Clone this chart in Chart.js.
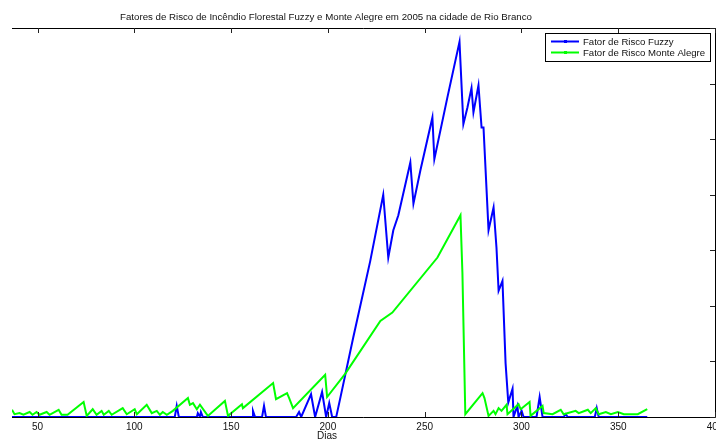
<!DOCTYPE html>
<html>
<head>
<meta charset="utf-8">
<script src="https://cdn.jsdelivr.net/npm/chart.js@4.4.0/dist/chart.umd.min.js"></script>
<style>
  html, body { margin: 0; padding: 0; background: #fff; }
</style>
</head>
<body>
<canvas id="fatoresChart" width="716" height="442"></canvas>
<script>
var titulo = "Fatores de Risco de Incêndio Florestal Fuzzy e Monte Alegre em 2005 na cidade de Rio Branco";
var rotuloX = "Dias";
var nomesSeries = ["Fator de Risco Fuzzy", "Fator de Risco Monte Alegre"];
var ticksDias = [50, 100, 150, 200, 250, 300, 350, 400];
var ticksY = [0, 1, 2, 3, 4, 5, 6, 7];

// Fator de Risco Fuzzy (vertices)
var fuzzyDias = [36.8, 120.9, 121.9, 123.0, 132.3, 132.8, 133.9, 134.4, 135.4, 160.8, 161.3, 162.4,
  166.0, 167.0, 168.0, 183.6, 185.1, 186.2, 191.3, 193.4, 197.0, 199.1, 200.7, 202.2, 204.3,
  206.4, 213.1, 221.9, 228.6, 231.2, 233.8, 236.4, 242.6, 244.2, 247.8, 254.0, 255.0, 261.8,
  268.0, 270.0, 272.1, 274.2, 275.2, 277.8, 279.4, 280.4, 283.0, 285.6, 287.1, 288.2, 290.2,
  291.8, 293.2, 295.4, 295.9, 297.9, 298.5, 300.1, 301.1, 307.8, 309.4, 310.9, 321.8, 322.9,
  323.9, 337.9, 338.9, 339.9, 365.0];
var fuzzyValores = [0, 0, 0.20, 0, 0, 0.07, 0, 0.09, 0, 0, 0.11, 0,
  0, 0.20, 0, 0, 0.09, 0, 0.41, 0, 0.45, 0, 0.25, 0, 0,
  0.34, 1.43, 2.81, 4.00, 2.87, 3.36, 3.63, 4.58, 3.84, 4.44, 5.39, 4.64, 5.76,
  6.75, 5.27, 5.57, 5.92, 5.48, 5.97, 5.21, 5.21, 3.36, 3.77, 3.05, 2.27, 2.45,
  0.97, 0.26, 0.51, 0, 0.20, 0, 0.11, 0, 0, 0.36, 0, 0, 0.05,
  0, 0, 0.16, 0, 0];

// Fator de Risco Monte Alegre
var monteDias = [36.8, 38.1, 40.7, 42.7, 45.9, 47.4, 49.5, 51.0, 54.7, 56.2, 60.9, 62.4, 65.5,
  73.8, 75.4, 78.5, 80.5, 83.1, 84.2, 86.8, 88.3, 94.0, 96.1, 100.2, 101.3, 106.4, 109.0,
  111.6, 113.2, 114.7, 116.8, 119.9, 127.7, 128.7, 130.3, 132.3, 133.9, 138.0, 146.8, 148.4,
  155.6, 156.1, 171.7, 173.2, 178.9, 180.0, 182.0, 198.6, 199.6, 209.0, 227.1, 233.3, 256.6,
  268.5, 269.5, 271.0, 279.9, 280.9, 283.0, 285.6, 286.6, 288.2, 289.7, 292.3, 292.8, 298.5,
  299.6, 304.2, 304.7, 310.9, 311.5, 316.1, 320.3, 321.8, 328.0, 329.6, 334.3, 335.8, 338.4,
  339.9, 343.6, 346.2, 349.8, 352.9, 360.1, 365.0];
var monteValores = [0.13, 0.05, 0.07, 0.04, 0.09, 0.04, 0.09, 0.04, 0.09, 0.04, 0.13, 0.04, 0.04,
  0.27, 0.02, 0.14, 0.04, 0.11, 0.04, 0.11, 0.04, 0.16, 0.05, 0.14, 0.05, 0.22, 0.07,
  0.11, 0.04, 0.09, 0.04, 0.11, 0.34, 0.22, 0.25, 0.14, 0.22, 0.02, 0.29, 0.02,
  0.23, 0.16, 0.61, 0.32, 0.43, 0.34, 0.16, 0.76, 0.36, 0.78, 1.73, 1.88, 2.87,
  3.63, 2.60, 0.05, 0.43, 0.34, 0.02, 0.11, 0.05, 0.16, 0.11, 0.22, 0.05, 0.23,
  0.14, 0.27, 0.02, 0.20, 0.07, 0.05, 0.13, 0.05, 0.11, 0.07, 0.13, 0.07, 0.16,
  0.05, 0.09, 0.05, 0.09, 0.05, 0.05, 0.14];

var fonte = '"Liberation Sans", Arial, sans-serif';
var azul = "#0000ff";
var verde = "#00ff00";

var pontos = function(dias, valores) {
  return dias.map(function(d, i) { return { x: d, y: valores[i] }; });
};

// box, inward ticks, title, x label and legend (MATLAB look)
var moldura = {
  id: "moldura",
  afterDraw: function(chart) {
    var ctx = chart.ctx;
    var area = chart.chartArea;
    var sx = chart.scales.x;
    var sy = chart.scales.y;
    ctx.save();
    ctx.strokeStyle = "#000";
    ctx.lineWidth = 1;
    ctx.beginPath();
    ctx.moveTo(area.left, area.top + 0.5);
    ctx.lineTo(area.right + 0.5, area.top + 0.5);
    ctx.lineTo(area.right + 0.5, area.bottom + 0.5);
    ctx.lineTo(area.left, area.bottom + 0.5);
    ctx.stroke();

    ctx.strokeStyle = "#222";
    ctx.beginPath();
    ticksDias.forEach(function(v) {
      var px = Math.round(sx.getPixelForValue(v)) + 0.5;
      ctx.moveTo(px, area.bottom);
      ctx.lineTo(px, area.bottom - 5);
      ctx.moveTo(px, area.top);
      ctx.lineTo(px, area.top + 5);
    });
    ticksY.forEach(function(v) {
      var py = Math.round(sy.getPixelForValue(v)) + 0.5;
      ctx.moveTo(area.right, py);
      ctx.lineTo(area.right - 5, py);
    });
    ctx.stroke();

    ctx.fillStyle = "#111";
    ctx.font = "9.7px " + fonte;
    ctx.textAlign = "center";
    ctx.textBaseline = "alphabetic";
    ctx.fillText(titulo, 326, 20);
    ctx.font = "10px " + fonte;
    ctx.fillText(rotuloX, 327, 439);

    // legend
    var lx = 545.5, ly = 33.5, lw = 165, lh = 28;
    ctx.fillStyle = "#fff";
    ctx.fillRect(lx, ly, lw, lh);
    ctx.strokeStyle = "#000";
    ctx.strokeRect(lx, ly, lw, lh);
    var cores = [azul, verde];
    ctx.font = "9.6px " + fonte;
    nomesSeries.forEach(function(nome, i) {
      var yy = 41.5 + i * 11;
      ctx.strokeStyle = cores[i];
      ctx.lineWidth = 2;
      ctx.beginPath();
      ctx.moveTo(551, yy);
      ctx.lineTo(579, yy);
      ctx.stroke();
      ctx.fillStyle = cores[i];
      ctx.fillRect(564, yy - 1.5, 3, 3);
      ctx.fillStyle = "#111";
      ctx.textAlign = "left";
      ctx.fillText(nome, 583, yy + 3.5);
    });
    ctx.restore();
  }
};

var chartFatores = new Chart(document.getElementById("fatoresChart").getContext("2d"), {
  type: "line",
  data: {
    datasets: [
      {
        label: nomesSeries[0],
        data: pontos(fuzzyDias, fuzzyValores),
        borderColor: azul,
        backgroundColor: azul,
        borderWidth: 2,
        pointRadius: 0,
        tension: 0,
        order: 1
      },
      {
        label: nomesSeries[1],
        data: pontos(monteDias, monteValores),
        borderColor: verde,
        backgroundColor: verde,
        borderWidth: 2,
        pointRadius: 0,
        tension: 0,
        order: 0
      }
    ]
  },
  options: {
    responsive: false,
    animation: false,
    layout: { padding: { left: 12, top: 28, right: 1, bottom: 5 } },
    plugins: {
      legend: { display: false },
      title: { display: false },
      tooltip: { enabled: false }
    },
    scales: {
      x: {
        type: "linear",
        min: 36.8,
        max: 400,
        afterBuildTicks: function(scale) {
          scale.ticks = ticksDias.map(function(v) { return { value: v }; });
        },
        afterFit: function(scale) {
          scale.paddingLeft = 0;
          scale.paddingRight = 0;
        },
        grid: { display: false, drawTicks: false },
        border: { display: false },
        ticks: {
          autoSkip: false,
          maxRotation: 0,
          padding: 4,
          color: "#111",
          font: { size: 10, family: fonte }
        }
      },
      y: {
        display: false,
        min: 0,
        max: 7
      }
    }
  },
  plugins: [moldura]
});
</script>
</body>
</html>
